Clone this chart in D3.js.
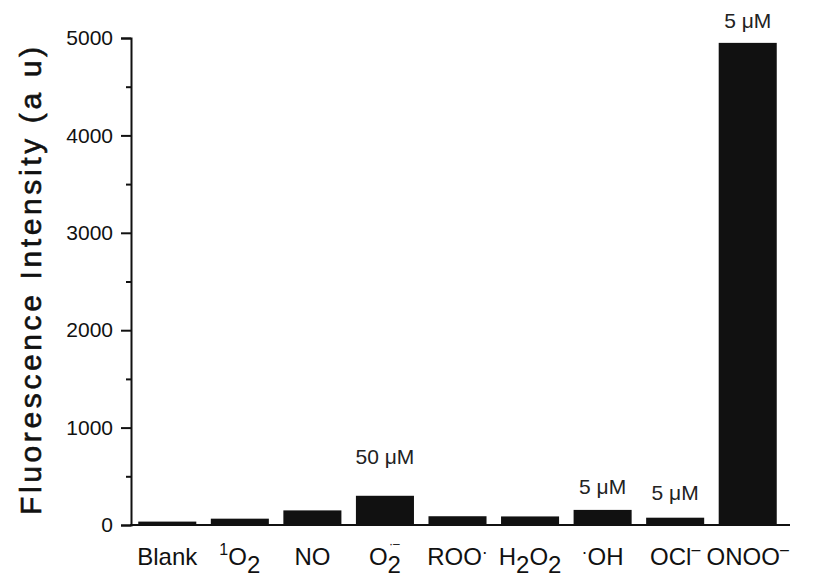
<!DOCTYPE html>
<html><head><meta charset="utf-8">
<script src="https://cdn.jsdelivr.net/npm/d3@7"></script>
<style>body{margin:0;background:#fff}text{font-family:Arial,"Liberation Sans",sans-serif}</style>
</head><body><svg id="c" width="819" height="578"></svg>
<script>
const categories = ["Blank","1O2","NO","O2-","ROO","H2O2","OH","OCl","ONOO"];
const values = [35, 65, 150, 300, 90, 88, 155, 75, 4950];
const annotations = [{cat:"O2-", text:"50 \u03BCM"},{cat:"OH", text:"5 \u03BCM"},{cat:"OCl", text:"5 \u03BCM"},{cat:"ONOO", text:"5 \u03BCM"}];
const yTicks = [0,1000,2000,3000,4000,5000];
const yMinor = [500,1500,2500,3500,4500];
// label parts: [text, mode]
const labelParts = {
  "Blank":[["Blank","n"]],
  "1O2":[["1","sup"],["O","n"],["2","sub"]],
  "NO":[["NO","n"]],
  "O2-":[["O","n"],["2","sub"],["\u00B7\u2013","stack"]],
  "ROO":[["ROO","n"],["\u00B7","dot"]],
  "H2O2":[["H","n"],["2","sub"],["O","n"],["2","sub"]],
  "OH":[["\u00B7","dot"],["OH","n"]],
  "OCl":[["OCl","n"],["\u2013","sup"]],
  "ONOO":[["ONOO","n"],["\u2013","sup"]]
};

const svg = d3.select("#c");
const x = d3.scaleBand().domain(categories).range([131, 784]).paddingInner(0.2).paddingOuter(0.1);
const y = d3.scaleLinear().domain([0,5000]).range([525, 38]);

// bars
svg.selectAll("rect.bar").data(categories).join("rect").attr("class","bar")
  .attr("x", d => x(d)).attr("width", x.bandwidth())
  .attr("y", (d,i) => y(values[i])).attr("height", (d,i) => y(0) - y(values[i]))
  .attr("fill", "#111");

// y axis
const yAxis = d3.axisLeft(y).tickValues(yTicks).tickSize(10).tickPadding(8).tickFormat(d3.format("d"));
const gy = svg.append("g").attr("transform","translate(131,0)").call(yAxis);
gy.select(".domain").attr("stroke-width",2).attr("stroke","#111");
gy.selectAll(".tick line").attr("stroke-width",2).attr("stroke","#111");
gy.selectAll(".tick text").attr("font-size",21).attr("fill","#111").attr("font-family","Arial, 'Liberation Sans', sans-serif");
const gm = svg.append("g").attr("transform","translate(131,0)").call(d3.axisLeft(y).tickValues(yMinor).tickSize(5).tickFormat(""));
gm.select(".domain").remove();
gm.selectAll(".tick line").attr("stroke-width",2).attr("stroke","#111");

// x axis line
svg.append("line").attr("x1",130).attr("x2",790).attr("y1",y(0)).attr("y2",y(0)).attr("stroke","#111").attr("stroke-width",2);

// category labels
const lab = svg.append("g");
categories.forEach(c => {
  const t = lab.append("text").attr("x", x(c) + x.bandwidth()/2).attr("y", 565)
    .attr("text-anchor","middle").attr("font-size",24).attr("fill","#111");
  labelParts[c].forEach(([s,m]) => {
    const ts = t.append("tspan").text(s);
    if (m === "sup") ts.attr("font-size",16).attr("baseline-shift","10");
    else if (m === "sub") ts.attr("baseline-shift","-8");
    else if (m === "stack") ts.attr("font-size",12).attr("dx",-12).attr("baseline-shift","17");
    else if (m === "dot") ts.attr("font-size",18).attr("baseline-shift","7");
  });
});

// annotations
const annY = {"O2-":464, "OH":494, "OCl":500, "ONOO":28};
annotations.forEach(a => {
  svg.append("text").attr("x", x(a.cat) + x.bandwidth()/2).attr("y", annY[a.cat])
    .attr("text-anchor","middle").attr("font-size",21).attr("fill","#222").text(a.text);
});

// y title
svg.append("text").attr("transform","translate(41,281) rotate(-90)").attr("text-anchor","middle")
  .attr("font-size",30).attr("fill","#111").attr("textLength",468).attr("lengthAdjust","spacing")
  .attr("stroke","#111").attr("stroke-width",0.6)
  .text("Fluorescence Intensity (a u)");
</script></body></html>
